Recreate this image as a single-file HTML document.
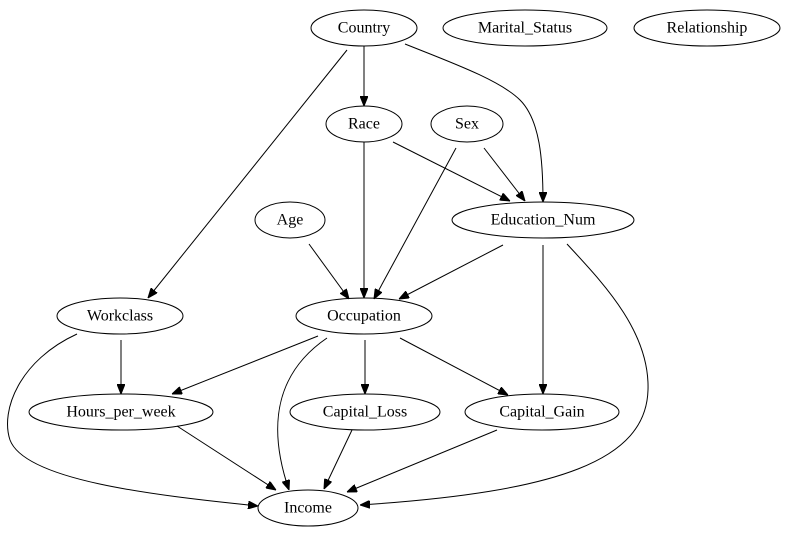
<!DOCTYPE html>
<html><head><meta charset="utf-8"><style>
html,body{margin:0;padding:0;background:#fff;}
svg{display:block;}
text{font-family:"Liberation Serif",serif;font-size:16px;text-anchor:middle;dominant-baseline:central;fill:#000;}
ellipse{fill:none;stroke:#000;stroke-width:1;}
path{fill:none;stroke:#000;stroke-width:1;}
</style></head><body>
<svg width="787" height="539" viewBox="0 0 787 539">
<defs><marker id="a" markerWidth="10" markerHeight="8" refX="10" refY="4" orient="auto" markerUnits="userSpaceOnUse"><path d="M0,0 L10,4 L0,8 Z" style="fill:#000;stroke:#000"/></marker></defs>
<ellipse cx="364" cy="28" rx="53" ry="18"/><text x="364" y="28">Country</text>
<ellipse cx="525" cy="28" rx="82" ry="18"/><text x="525" y="28">Marital_Status</text>
<ellipse cx="707" cy="28" rx="73" ry="18"/><text x="707" y="28">Relationship</text>
<ellipse cx="364" cy="124" rx="38" ry="18"/><text x="364" y="124">Race</text>
<ellipse cx="467" cy="124" rx="36" ry="18"/><text x="467" y="124">Sex</text>
<ellipse cx="290" cy="220" rx="35" ry="18"/><text x="290" y="220">Age</text>
<ellipse cx="543" cy="220" rx="91" ry="18"/><text x="543" y="220">Education_Num</text>
<ellipse cx="120" cy="316" rx="63" ry="18"/><text x="120" y="316">Workclass</text>
<ellipse cx="364" cy="316" rx="68" ry="18"/><text x="364" y="316">Occupation</text>
<ellipse cx="121" cy="412" rx="92" ry="18"/><text x="121" y="412">Hours_per_week</text>
<ellipse cx="365" cy="412" rx="75" ry="18"/><text x="365" y="412">Capital_Loss</text>
<ellipse cx="542" cy="412" rx="77" ry="18"/><text x="542" y="412">Capital_Gain</text>
<ellipse cx="308" cy="508" rx="50" ry="18"/><text x="308" y="508">Income</text>
<g marker-end="url(#a)">
<path d="M364,46 L364,106"/>
<path d="M347,50 L148,298"/>
<path d="M405,44 C450,62 500,80 520,100 C540,120 543,160 543,202"/>
<path d="M364,142 L364,298"/>
<path d="M393,142 L510,201"/>
<path d="M484,148 L525,201"/>
<path d="M456,148 L374,299"/>
<path d="M309,244 L349,299"/>
<path d="M503,245 L399,299"/>
<path d="M543,245 L543,394"/>
<path d="M567,244 C600,280 650,330 648,390 C646,460 560,492 360,505"/>
<path d="M121,340 L121,394"/>
<path d="M77,334 C20,360 0,410 10,440 C25,480 150,495 258,506"/>
<path d="M318,336 L172,394"/>
<path d="M365,340 L365,394"/>
<path d="M400,338 L508,395"/>
<path d="M327,338 C280,370 265,420 289,490"/>
<path d="M177,426 L276,490"/>
<path d="M352,430 L324,489"/>
<path d="M497,430 L347,492"/>
</g>
</svg>
</body></html>
